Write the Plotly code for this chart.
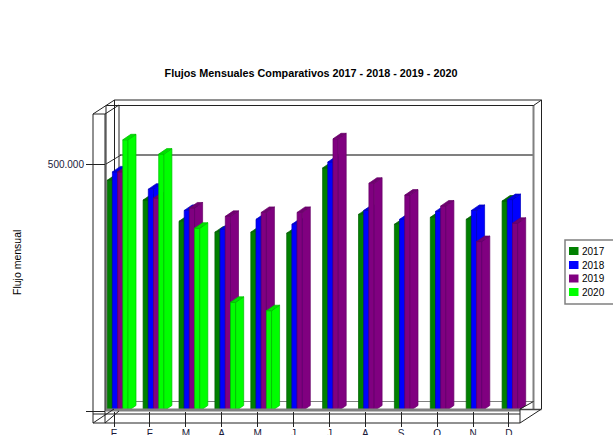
import plotly.graph_objects as go

# --- data -------------------------------------------------------------
months = ["E", "F", "M", "A", "M", "J", "J", "A", "S", "O", "N", "D"]
series_names = ["2017", "2018", "2019", "2020"]
v2017 = [467000, 427000, 384000, 362000, 362000, 360000, 492000, 398000, 378000, 392000, 388000, 425000]
v2018 = [484000, 449000, 406000, 368000, 388000, 378000, 504000, 406000, 388000, 404000, 406000, 428000]
v2019 = [484000, 431000, 411000, 394000, 402000, 402000, 551000, 461000, 437000, 415000, 343000, 380000]
v2020 = [549000, 520000, 370000, 220000, 203000, None, None, None, None, None, None, None]
y_tick_vals = [0, 500000]
y_tick_text = ["", "500.000"]
colors = ["#008000", "#0000ff", "#800080", "#00ff00"]
edges = ["#006000", "#0000c0", "#660066", "#00c000"]
tops = ["#007000", "#0000e0", "#700070", "#00e000"]
all_values = [v2017, v2018, v2019, v2020]

# --- geometry (pixels -> axis units) ----------------------------------
W, H = 613, 435
L, R, T, B = 106, 541, 100, 411
STEP = 35.9          # px per month
TICK0 = 114          # px of first month
PX_PER_VAL = 247 / 500000
x_range = [(L - TICK0) / STEP, (R - TICK0) / STEP]
y_range = [0, (B - T) / PX_PER_VAL]
BAR_W = 5.2 / STEP
BAR_START = -6.8 / STEP
DX = 8 / STEP
DY = 5.5 / PX_PER_VAL


def px(x):
    return (x - L) / (R - L)


def py(y):
    return (B - y) / (B - T)


def line(x0, y0, x1, y1, color="#222222", width=1, layer="above"):
    return dict(type="line", xref="paper", yref="paper", x0=px(x0), y0=py(y0), x1=px(x1), y1=py(y1),
                line=dict(color=color, width=width), layer=layer)


fig = go.Figure()
for k, (name, vals) in enumerate(zip(series_names, all_values)):
    suffix = "" if k == 0 else str(k + 1)
    xa, ya = "x" + suffix, "y" + suffix
    fig.add_trace(go.Bar(
        x=list(range(12)), y=vals, name=name, width=BAR_W, offset=BAR_START + k * BAR_W,
        marker=dict(color=colors[k], line=dict(color=edges[k], width=0.7)),
        xaxis=xa, yaxis=ya, showlegend=False))
    sx, sy, tx, ty = [], [], [], []
    for i, v in enumerate(vals):
        if v is None:
            continue
        x0 = i + BAR_START + k * BAR_W
        x1 = x0 + BAR_W
        sx += [x1, x1 + DX, x1 + DX, x1, x1, None]
        sy += [0, DY, v + DY, v, 0, None]
        tx += [x0, x1, x1 + DX, x0 + DX, x0, None]
        ty += [v, v, v + DY, v + DY, v, None]
    for xs, ys, col in ((sx, sy, colors[k]), (tx, ty, tops[k])):
        fig.add_trace(go.Scatter(
            x=xs, y=ys, mode="lines", fill="toself", fillcolor=col,
            line=dict(color=edges[k], width=0.7), hoverinfo="skip",
            xaxis=xa, yaxis=ya, showlegend=False))

shapes = [
    # back wall and grid (behind the bars)
    line(119, 105.5, 119, 401.5, layer="below"),
    line(114.5, 100, 114.5, 409, layer="below"),
    line(119, 155, 533.5, 155, color="#808080", width=2, layer="below"),
    line(119, 401.5, 533.5, 401.5, color="#808080", width=1, layer="below"),
    line(106, 164, 121, 155, color="#333333", layer="below"),
    line(533.5, 105, 533.5, 409, color="#808080", width=2, layer="below"),
    # top frame
    line(114.5, 100, 541.5, 100),
    line(106, 105.5, 533.5, 105.5),
    line(93, 114, 114.5, 100),
    line(105, 114, 119, 105),
    line(533.5, 105.5, 541.5, 100),
    line(93, 114, 105, 114),
    # left wall
    line(93, 114, 93, 423),
    line(105, 114, 105, 423),
    line(106, 105.5, 106, 411),
    # right edge
    line(541.5, 100, 541.5, 409),
    # floor
    line(106, 410, 520, 410, color="#808080", width=3),
    line(520, 409.5, 541.5, 409.5, color="#444444", width=1.5),
    line(93, 414, 520, 414),
    line(93, 423, 520, 423),
    line(520, 409, 520, 423),
    line(520, 409, 533.5, 401.5),
    line(520, 423, 541.5, 409),
    line(93, 423, 114, 409),
    line(105, 423, 119, 411),
]

annotations = [dict(text="Flujo mensual", xref="paper", yref="paper", x=px(17), y=py(263),
                    textangle=-90, showarrow=False, font=dict(size=10.5, color="#000000"),
                    xanchor="center", yanchor="middle")]

# legend box
LEG_Y = [251, 265, 278.5, 292]
shapes.append(dict(type="rect", xref="paper", yref="paper", x0=px(565), x1=px(614), y0=py(240), y1=py(304),
                   line=dict(color="#808080", width=1.5), fillcolor="#ffffff", layer="above"))
for k, name in enumerate(series_names):
    shapes.append(dict(type="rect", xref="paper", yref="paper", x0=px(569), x1=px(578.5),
                       y0=py(LEG_Y[k] - 4), y1=py(LEG_Y[k] + 4),
                       line=dict(width=0), fillcolor=colors[k], layer="above"))
    annotations.append(dict(text=name, xref="paper", yref="paper", x=px(581), y=py(LEG_Y[k]),
                            showarrow=False, xanchor="left", yanchor="middle", xshift=-1,
                            font=dict(size=10, color="#000000")))

layout = dict(
    width=W, height=H, autosize=False,
    margin=dict(l=L, r=W - R, t=T, b=H - B, pad=0, autoexpand=False),
    paper_bgcolor="#ffffff", plot_bgcolor="rgba(0,0,0,0)",
    font=dict(family="Liberation Sans, Arial, sans-serif", size=10, color="#000000"),
    title=dict(text="<b>Flujos Mensuales Comparativos 2017 - 2018 - 2019 - 2020</b>",
               x=311 / W, y=1 - 73 / H, xanchor="center", yanchor="middle",
               font=dict(size=10.8, color="#000000")),
    barmode="overlay", showlegend=False, shapes=shapes, annotations=annotations,
    xaxis=dict(range=x_range, tickmode="array", tickvals=list(range(12)), ticktext=months,
               ticks="outside", ticklen=15, tickcolor="#222222", tickwidth=1, ticklabelstandoff=-2,
               showgrid=False, zeroline=False, showline=False, fixedrange=True,
               tickangle=0, tickfont=dict(size=10, color="#1a1a3a")),
    yaxis=dict(range=y_range, tickmode="array", tickvals=y_tick_vals, ticktext=y_tick_text,
               ticks="outside", ticklen=19, tickcolor="#222222", tickwidth=1,
               showgrid=False, zeroline=False, showline=False, fixedrange=True,
               tickfont=dict(size=10, color="#1a1a3a")),
)
for k in range(2, 5):
    layout[f"xaxis{k}"] = dict(range=x_range, overlaying="x", visible=False, fixedrange=True)
    layout[f"yaxis{k}"] = dict(range=y_range, overlaying="y", visible=False, fixedrange=True)
fig.update_layout(**layout)
fig.write_html("out.html", config=dict(displayModeBar=False),
               post_script="document.body.style.margin='0';document.documentElement.style.overflow='hidden';")
